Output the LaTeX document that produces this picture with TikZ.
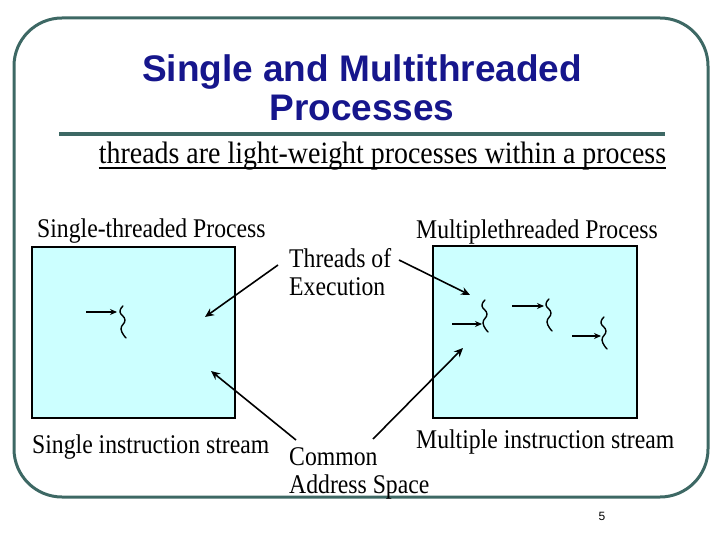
\documentclass[tikz,border=0pt]{standalone}
\usepackage{fontspec}
\usepackage{graphicx}
\setmainfont{Liberation Serif}
\setsansfont{Liberation Sans}
\usetikzlibrary{arrows.meta,calc}
\definecolor{frameteal}{RGB}{61,104,100}
\definecolor{titleblue}{RGB}{22,22,140}
\definecolor{boxcyan}{RGB}{204,255,255}
\newcommand{\sqz}[1]{\scalebox{0.878}[1]{\begin{tabular}{@{}l@{}}#1\end{tabular}}}
\tikzset{
  frame/.style={draw=frameteal, line width=3pt, rounded corners=48pt},
  rulebar/.style={draw=frameteal, line width=4pt},
  procbox/.style={draw=black, fill=boxcyan, line width=1.6pt, inner sep=0pt},
  lbl/.style={font=\fontsize{27}{28}\selectfont, inner sep=0pt, anchor=west},
  conn/.style={draw=black, line width=1.6pt, -{Stealth[length=9pt,width=8pt]}},
  tptr/.style={draw=black, line width=1.6pt, -{Stealth[length=7pt,width=6pt]}},
  squig/.style={draw=black, line width=1.4pt, line cap=round},
}
\newcommand{\squiggle}[2]{\draw[squig] plot[smooth, tension=0.8] coordinates {(#1,#2) ($(#1,#2)+(-3,6)$) ($(#1,#2)+(2,14)$) ($(#1,#2)+(-2,23)$) ($(#1,#2)+(3,32)$)};}
\begin{document}
\begin{tikzpicture}[x=1pt,y=-1pt]
\useasboundingbox (0,0) rectangle (720,540);
% frame
\draw[frame] (14,18) rectangle (708,497);
% title
\node[font=\sffamily\bfseries\fontsize{37}{39}\selectfont, text=titleblue, align=center, inner sep=0pt] (title) at (362,88) {Single and Multithreaded\\Processes};
\draw[rulebar] (59,134) -- (665,134);
\node[font=\fontsize{31}{32}\selectfont, inner sep=0pt, anchor=base] (sub) at (382.5,164) {\scalebox{0.9}[1]{threads are light-weight processes within a process}};
\draw[line width=2.5pt] ($(sub.base west)+(0,4)$) -- ($(sub.base east)+(0,4)$);
% boxes
\node[procbox, minimum width=203pt, minimum height=171pt] (sbox) at (133.5,332.5) {};
\node[procbox, minimum width=204pt, minimum height=172pt] (mbox) at (535,332) {};
% labels
\node[lbl] (stp) at (37,232) {\sqz{Single-threaded Process}};
\node[lbl] (mtp) at (416,233) {\sqz{Multiplethreaded Process}};
\node[lbl] (thr) at (289,276) {\sqz{Threads of\\Execution}};
\node[lbl] (sis) at (32,448) {\sqz{Single instruction stream}};
\node[lbl] (mis) at (416,443) {\sqz{Multiple instruction stream}};
\node[lbl] (cas) at (289,474) {\sqz{Common\\Address Space}};
\node[font=\sffamily\fontsize{12}{14}\selectfont, inner sep=0pt] (pg) at (602,516) {5};
% connectors
\coordinate (thrA) at (278,265);
\coordinate (thrB) at (399,260);
\coordinate (casA) at (296,440);
\coordinate (casB) at (373,439);
\coordinate (sT) at (205,317);
\coordinate (sC) at (211,371);
\coordinate (mT) at (470,295);
\coordinate (mC) at (463,348);
\draw[conn] (thrA) -- (sT);
\draw[conn] (thrB) -- (mT);
\draw[conn] (casA) -- (sC);
\draw[conn] (casB) -- (mC);
% threads
\coordinate (p0a) at (86,312); \coordinate (p0b) at (117,312);
\coordinate (p1a) at (452,324); \coordinate (p1b) at (482,324);
\coordinate (p2a) at (512,306); \coordinate (p2b) at (544,306);
\coordinate (p3a) at (572,336); \coordinate (p3b) at (601,336);
\draw[tptr] (p0a) -- (p0b);
\draw[tptr] (p1a) -- (p1b);
\draw[tptr] (p2a) -- (p2b);
\draw[tptr] (p3a) -- (p3b);
\squiggle{123}{306}
\squiggle{485}{300}
\squiggle{549}{299}
\squiggle{604}{317}
\end{tikzpicture}
\end{document}
